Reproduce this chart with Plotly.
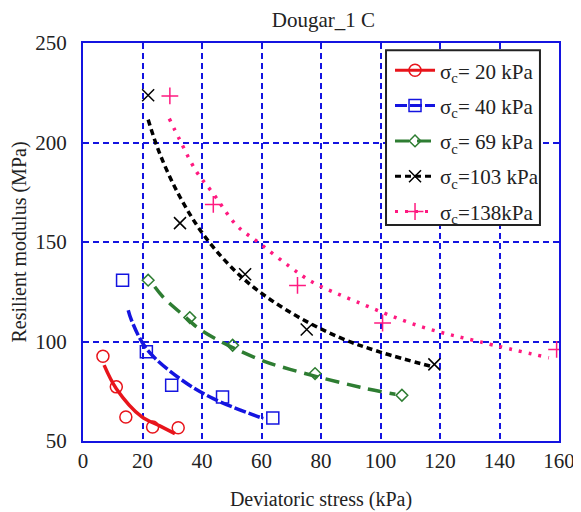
import plotly.graph_objects as go

# Measured points
x20 = [6.7, 11.2, 14.4, 23.4, 32.0]
y20 = [92.6, 77.2, 62.1, 57.0, 56.7]
x40 = [13.3, 21.3, 29.8, 46.9, 63.8]
y40 = [130.8, 94.8, 78.0, 72.1, 61.6]
x69 = [21.9, 35.9, 50.3, 78.0, 107.2]
y69 = [130.8, 112.0, 98.1, 83.9, 73.0]
x103 = [21.9, 32.6, 54.5, 75.2, 118.1]
y103 = [223.7, 159.5, 133.8, 106.0, 88.5]
x138 = [29.2, 43.8, 72.1, 100.7, 159.2]
y138 = [223.4, 168.9, 128.2, 109.3, 96.0]

# Fitted curves
fx20 = [7.1, 11.2, 19.7, 25.8, 30.9]
fy20 = [88.1, 76.3, 62.2, 57.6, 53.7]
fx40 = [15.2, 16.3, 21.3, 32.6, 43.8, 60.6]
fy40 = [115.7, 110.7, 96.4, 81.3, 71.3, 61.3]
fx69 = [24.1, 26.9, 33.1, 40.4, 58.4, 69.6, 93.2, 105.0]
fy69 = [127.5, 122.4, 114.0, 105.0, 91.5, 86.0, 77.0, 73.5]
fx103 = [21.9, 25.8, 32.6, 41.5, 53.9, 68.5, 86.4, 99.9, 117.8]
fy103 = [211.5, 194.4, 172.6, 151.7, 131.6, 115.7, 101.9, 94.7, 87.2]
fx138 = [29.0, 32.6, 38.2, 43.8, 51.6, 59.5, 69.6, 76.9, 92.1, 113.4, 133.5, 156.6]
fy138 = [212.0, 201.1, 185.2, 174.3, 158.4, 149.2, 137.5, 130.0, 119.9, 107.6, 99.8, 91.8]

labels = ["σ<sub>c</sub>= 20 kPa", "σ<sub>c</sub>= 40 kPa", "σ<sub>c</sub>= 69 kPa",
          "σ<sub>c</sub>=103 kPa", "σ<sub>c</sub>=138kPa"]

series = [
    (x20, y20, fx20, fy20, "#e8141b", "circle-open", 12),
    (x40, y40, fx40, fy40, "#1414e0", "square-open", 12),
    (x69, y69, fx69, fy69, "#2e7d32", "diamond-open", 9),
    (x103, y103, fx103, fy103, "#000000", "x-thin-open", 12),
    (x138, y138, fx138, fy138, "#ff1a80", "cross-thin-open", 12),
]
dashes = ["solid", "12px,3px", "14px,8px", "6px,4px", "3px,7px"]

fig = go.Figure()
for i, ((xs, ys, fx, fy, col, sym, sz), lab, dsh) in enumerate(zip(series, labels, dashes)):
    fig.add_trace(go.Scatter(x=fx, y=fy, mode="lines", line=dict(color=col, width=3.5, dash=dsh, shape="spline"),
                             showlegend=False, hoverinfo="skip"))
    fig.add_trace(go.Scatter(x=xs, y=ys, mode="markers",
                             marker=dict(symbol=sym, size=sz, color=col, line=dict(color=col, width=1.5)),
                             showlegend=False))
    fig.add_trace(go.Scatter(x=[None], y=[None], mode="lines+markers", name=lab, legendgroup=f"g{i}",
                             line=dict(color=col, width=3, dash=dsh),
                             marker=dict(symbol=sym, size=sz, color=col, line=dict(color=col, width=1.5))))

serif = "Liberation Serif, Times New Roman, serif"
tickfont = dict(family=serif, size=21, color="#222")
titlefont = dict(family=serif, size=20, color="#222")
fig.update_layout(
    width=581, height=512,
    margin=dict(l=75, r=30, t=35, b=79),
    paper_bgcolor="white", plot_bgcolor="white",
    font=dict(family=serif, size=20, color="#222"),
    title=dict(text="Dougar_1 C", x=0.505, xref="paper", xanchor="center", y=0.977, yanchor="middle",
               font=dict(family=serif, size=21, color="#222")),
    showlegend=True,
    legend=dict(x=0.645, y=0.982, xanchor="left", yanchor="top",
                bgcolor="rgba(0,0,0,0)", borderwidth=0,
                font=dict(family=serif, size=21, color="#222"),
                tracegroupgap=5, itemwidth=40),
    shapes=[dict(type="rect", xref="paper", yref="paper", x0=0.6366, x1=0.960, y0=0.543, y1=0.982,
                 fillcolor="white", line=dict(color="#222", width=2), layer="above")],
)
fig.update_xaxes(range=[0, 160], dtick=20, showgrid=True, gridcolor="#1414e0", griddash="6px,4px", gridwidth=1.5,
                 showline=True, linecolor="#1414e0", linewidth=2, mirror=True, ticks="", zeroline=False,
                 automargin=False, ticklabelstandoff=0,
                 title=dict(text="Deviatoric stress (kPa)", standoff=20, font=titlefont), tickfont=tickfont)
fig.update_yaxes(range=[50, 250], dtick=50, showgrid=True, gridcolor="#1414e0", griddash="6px,4px", gridwidth=1.5,
                 showline=True, linecolor="#1414e0", linewidth=2, mirror=True, ticks="", zeroline=False,
                 automargin=False, ticklabelstandoff=10,
                 title=dict(text="Resilient modulus (MPa)", standoff=3, font=titlefont), tickfont=tickfont)

fig.write_html("out.html")
